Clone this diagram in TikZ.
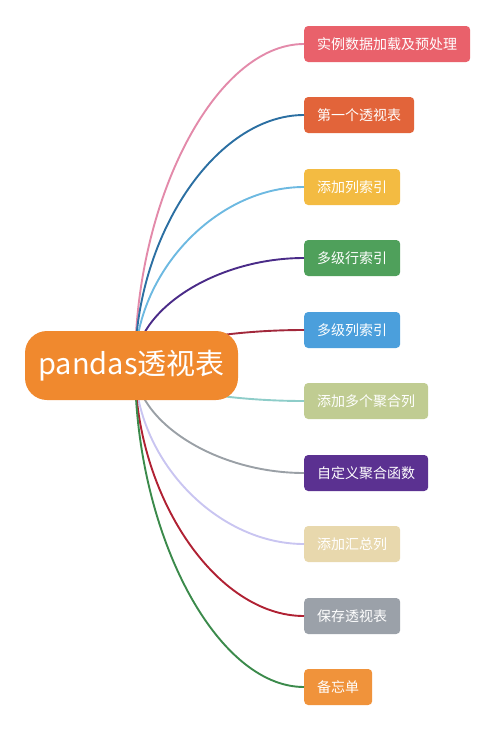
\documentclass[tikz,border=0pt]{standalone}
\usepackage{fontspec}
\setmainfont{Noto Sans CJK SC}
\usetikzlibrary{calc}

\definecolor{rootorange}{HTML}{F0892E}
\definecolor{boxa}{HTML}{E9616B}
\definecolor{boxb}{HTML}{E2643A}
\definecolor{boxc}{HTML}{F3BB42}
\definecolor{boxd}{HTML}{4FA05B}
\definecolor{boxe}{HTML}{4B9FDC}
\definecolor{boxf}{HTML}{C0CC92}
\definecolor{boxg}{HTML}{5B3191}
\definecolor{boxh}{HTML}{E8D8AD}
\definecolor{boxi}{HTML}{9BA1A9}
\definecolor{boxj}{HTML}{F0933B}
\definecolor{linea}{HTML}{E38AAA}
\definecolor{lineb}{HTML}{2B6FA2}
\definecolor{linec}{HTML}{6DB9E1}
\definecolor{lined}{HTML}{4A2B88}
\definecolor{linee}{HTML}{A2283B}
\definecolor{linef}{HTML}{8ECDC9}
\definecolor{lineg}{HTML}{9AA0A6}
\definecolor{lineh}{HTML}{C9C5F1}
\definecolor{linei}{HTML}{B02133}
\definecolor{linej}{HTML}{3B8A4B}

\tikzset{
  topic/.style={anchor=west,rounded corners=4pt,text=white,font=\fontsize{14}{14}\selectfont,
    inner xsep=13pt,inner ysep=0pt,minimum height=36pt},
  branch/.style={line width=1.9pt}
}

\begin{document}
\begin{tikzpicture}[x=1pt,y=-1pt]
         \useasboundingbox (0,0) rectangle (500,736) ;
         \coordinate (hub) at (135,366) ;
         % topics on the right
         \node[topic,fill=boxa] (load) at (304,44) {实例数据加载及预处理} ;
         \node[topic,fill=boxb] (first) at (304,115) {第一个透视表} ;
         \node[topic,fill=boxc] (colidx) at (304,187) {添加列索引} ;
         \node[topic,fill=boxd] (mrow) at (304,258) {多级行索引} ;
         \node[topic,fill=boxe] (mcol) at (304,330) {多级列索引} ;
         \node[topic,fill=boxf] (multagg) at (304,401) {添加多个聚合列} ;
         \node[topic,fill=boxg] (custagg) at (304,473) {自定义聚合函数} ;
         \node[topic,fill=boxh] (totals) at (304,544) {添加汇总列} ;
         \node[topic,fill=boxi] (save) at (304,616) {保存透视表} ;
         \node[topic,fill=boxj] (memo) at (304,687) {备忘单} ;
         % branches: leave the hub upright, reach each topic level
         \draw[branch,linea] (hub) .. controls ($(hub)!0.52!(hub |- load.west)$) and ($(load.west)!0.52!(hub |- load.west)$) .. (load.west) ;
         \draw[branch,lineb] (hub) .. controls ($(hub)!0.52!(hub |- first.west)$) and ($(first.west)!0.52!(hub |- first.west)$) .. (first.west) ;
         \draw[branch,linec] (hub) .. controls ($(hub)!0.52!(hub |- colidx.west)$) and ($(colidx.west)!0.52!(hub |- colidx.west)$) .. (colidx.west) ;
         \draw[branch,lined] (hub) .. controls ($(hub)!0.52!(hub |- mrow.west)$) and ($(mrow.west)!0.52!(hub |- mrow.west)$) .. (mrow.west) ;
         \draw[branch,linee] (hub) .. controls ($(hub)!0.52!(hub |- mcol.west)$) and ($(mcol.west)!0.52!(hub |- mcol.west)$) .. (mcol.west) ;
         \draw[branch,linef] (hub) .. controls ($(hub)!0.52!(hub |- multagg.west)$) and ($(multagg.west)!0.52!(hub |- multagg.west)$) .. (multagg.west) ;
         \draw[branch,lineg] (hub) .. controls ($(hub)!0.52!(hub |- custagg.west)$) and ($(custagg.west)!0.52!(hub |- custagg.west)$) .. (custagg.west) ;
         \draw[branch,lineh] (hub) .. controls ($(hub)!0.52!(hub |- totals.west)$) and ($(totals.west)!0.52!(hub |- totals.west)$) .. (totals.west) ;
         \draw[branch,linei] (hub) .. controls ($(hub)!0.52!(hub |- save.west)$) and ($(save.west)!0.52!(hub |- save.west)$) .. (save.west) ;
         \draw[branch,linej] (hub) .. controls ($(hub)!0.52!(hub |- memo.west)$) and ($(memo.west)!0.52!(hub |- memo.west)$) .. (memo.west) ;
         % central topic
         \node[fill=rootorange,rounded corners=22pt,text=white,font=\fontsize{29}{29}\selectfont,
           minimum width=213pt,minimum height=69pt,inner sep=0pt] (root) at (131.5,365.5) {pandas透视表} ;
       \end{tikzpicture}
\end{document}
